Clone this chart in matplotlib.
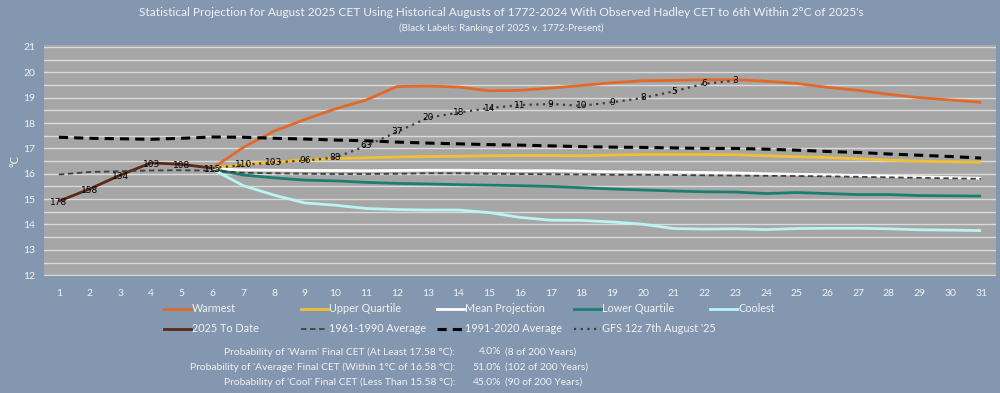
import numpy as np
import matplotlib
matplotlib.use('Agg')
import matplotlib.pyplot as plt
from matplotlib.lines import Line2D

plt.rcParams['font.family'] = ['Lato', 'DejaVu Sans']

# Data: day of August and CET values (°C)
days = np.arange(1, 32)
proj_days = np.arange(6, 32)

warmest = [16.22, 17.04, 17.68, 18.14, 18.56, 18.91, 19.44, 19.46, 19.42, 19.27, 19.29,
           19.38, 19.48, 19.59, 19.67, 19.68, 19.71, 19.71, 19.65, 19.56, 19.41, 19.29,
           19.13, 19.0, 18.91, 18.82]
upper_quartile = [16.22, 16.37, 16.47, 16.54, 16.6, 16.63, 16.66, 16.68, 16.69, 16.71,
                  16.72, 16.72, 16.71, 16.74, 16.76, 16.76, 16.76, 16.75, 16.71, 16.67,
                  16.64, 16.59, 16.54, 16.5, 16.47, 16.45]
mean_proj = [16.2, 16.15, 16.14, 16.13, 16.13, 16.12, 16.13, 16.14, 16.14, 16.13, 16.12,
             16.12, 16.1, 16.08, 16.07, 16.06, 16.05, 16.03, 16.0, 15.98, 15.96, 15.93,
             15.9, 15.88, 15.85, 15.82]
lower_quartile = [16.18, 15.95, 15.84, 15.75, 15.72, 15.66, 15.62, 15.6, 15.57, 15.55,
                  15.53, 15.5, 15.45, 15.4, 15.36, 15.32, 15.29, 15.28, 15.22, 15.26,
                  15.22, 15.18, 15.18, 15.14, 15.13, 15.12]
coolest = [16.18, 15.53, 15.16, 14.85, 14.76, 14.63, 14.59, 14.57, 14.57, 14.47, 14.28,
           14.17, 14.16, 14.1, 14.01, 13.84, 13.82, 13.83, 13.8, 13.84, 13.85, 13.85,
           13.83, 13.79, 13.78, 13.76]

to_date_days = np.arange(1, 7)
to_date = [14.92, 15.4, 15.95, 16.43, 16.37, 16.22]
to_date_rank = ['178', '158', '134', '103', '108', '115']

avg_6190 = [15.97, 16.07, 16.1, 16.13, 16.14, 16.12, 16.04, 16.02, 16.0, 15.99, 15.99,
            16.0, 16.02, 16.02, 16.0, 15.99, 15.98, 15.97, 15.96, 15.96, 15.95, 15.94,
            15.93, 15.92, 15.91, 15.9, 15.88, 15.86, 15.84, 15.82, 15.8]
avg_9120 = [17.44, 17.4, 17.38, 17.36, 17.4, 17.45, 17.44, 17.4, 17.37, 17.33, 17.3,
            17.25, 17.21, 17.18, 17.15, 17.13, 17.1, 17.07, 17.05, 17.04, 17.02, 17.0,
            17.0, 16.97, 16.93, 16.88, 16.84, 16.78, 16.73, 16.68, 16.62]

gfs_days = np.arange(6, 24)
gfs = [16.22, 16.35, 16.45, 16.52, 16.64, 17.1, 17.65, 18.21, 18.41, 18.59, 18.71,
       18.75, 18.68, 18.82, 18.99, 19.25, 19.55, 19.67]
gfs_rank = ['', '110', '103', '96', '88', '63', '37', '20', '18', '14', '11', '9', '10',
            '9', '8', '5', '6', '3']

prob_labels = ["Probability of 'Warm' Final CET (At Least 17.58 °C):",
               "Probability of 'Average' Final CET (Within 1°C of 16.58 °C):",
               "Probability of 'Cool' Final CET (Less Than 15.58 °C):"]
prob_pct = ['4.0%', '51.0%', '45.0%']
prob_count = ['(8 of 200 Years)', '(102 of 200 Years)', '(90 of 200 Years)']

bg = '#8497b0'
txt = '#f2f2f2'

fig = plt.figure(figsize=(10, 3.93), dpi=100, facecolor=bg)
ax = fig.add_axes([0.0435, 0.2965, 0.953, 0.5885])
ax.set_facecolor('#a6a6a6')

series = [
    ('Warmest', proj_days, warmest, dict(color='#e2692a', lw=2.0)),
    ('Upper Quartile', proj_days, upper_quartile, dict(color='#f0c030', lw=2.0)),
    ('Mean Projection', proj_days, mean_proj, dict(color='white', lw=2.0)),
    ('Lower Quartile', proj_days, lower_quartile, dict(color='#1b7f6f', lw=2.0)),
    ('Coolest', proj_days, coolest, dict(color='#b8f5f3', lw=2.0)),
    ('2025 To Date', to_date_days, to_date, dict(color='#5b2a14', lw=2.0)),
    ('1961-1990 Average', days, avg_6190, dict(color='#404040', lw=1.3, ls=(0, (3, 2)))),
    ('1991-2020 Average', days, avg_9120, dict(color='black', lw=2.2, ls=(0, (3, 2)))),
    ("GFS 12z 7th August '25", gfs_days, gfs, dict(color='#4a3a32', lw=1.6, ls=(0, (1, 2)))),
]

for name, x, y, st in series:
    ax.plot(x, y, solid_capstyle='butt', **st)

for x, y, s in zip(to_date_days, to_date, to_date_rank):
    ax.text(x, y - 0.05, s, ha='center', va='center', fontsize=6.5, color='black',
            family=['DejaVu Sans'])
for x, y, s in zip(gfs_days, gfs, gfs_rank):
    ax.text(x, y, s, ha='center', va='center', fontsize=6.5, color='black',
            family=['DejaVu Sans'])

ax.set_xlim(0.5, 31.5)
ax.set_ylim(11.95, 21.07)
ax.set_yticks(range(12, 22))
ax.set_yticks(np.arange(12, 21.5, 0.5), minor=True)
ax.set_xticks(days)
ax.grid(True, which='both', axis='y', color='#dadada', lw=1.0)
ax.set_axisbelow(True)
ax.tick_params(which='both', length=0, colors=txt, labelsize=7.5)
ax.tick_params(axis='x', pad=9)
ax.tick_params(axis='y', pad=6)
for sp in ax.spines.values():
    sp.set_visible(False)
ax.set_ylabel('°C', color=txt, fontsize=8)
ax.yaxis.set_label_coords(-0.024, 0.5)

fig.text(0.501, 0.967, 'Statistical Projection for August 2025 CET Using Historical Augusts of '
         "1772-2024 With Observed Hadley CET to 6th Within 2°C of 2025's",
         ha='center', va='center', color=txt, fontsize=8.6)
fig.text(0.501, 0.928, '(Black Labels: Ranking of 2025 v. 1772-Present)',
         ha='center', va='center', color=txt, fontsize=7)

# legend, laid out like the Excel one: 5 columns, row-wise
W, H = 1000.0, 393.0
for i, (name, x, y, st) in enumerate(series):
    col, row = i % 5, i // 5
    x0 = 164 + col * 136.6
    yl = 309 + row * 20
    fig.add_artist(Line2D([x0 / W, (x0 + 27) / W], [1 - yl / H, 1 - yl / H],
                          transform=fig.transFigure, **st))
    fig.text((x0 + 28) / W, 1 - yl / H, name, ha='left', va='center', color=txt,
             fontsize=7.8)

for i in range(3):
    yl = 352 + i * 15.2
    fig.text(455 / W, 1 - yl / H, prob_labels[i], ha='right', va='center', color=txt, fontsize=7.4)
    fig.text(501 / W, 1 - yl / H, prob_pct[i], ha='right', va='center', color=txt, fontsize=7.4)
    fig.text(505 / W, 1 - yl / H, prob_count[i], ha='left', va='center', color=txt, fontsize=7.4)

fig.savefig('out.png', dpi=100, facecolor=bg)
